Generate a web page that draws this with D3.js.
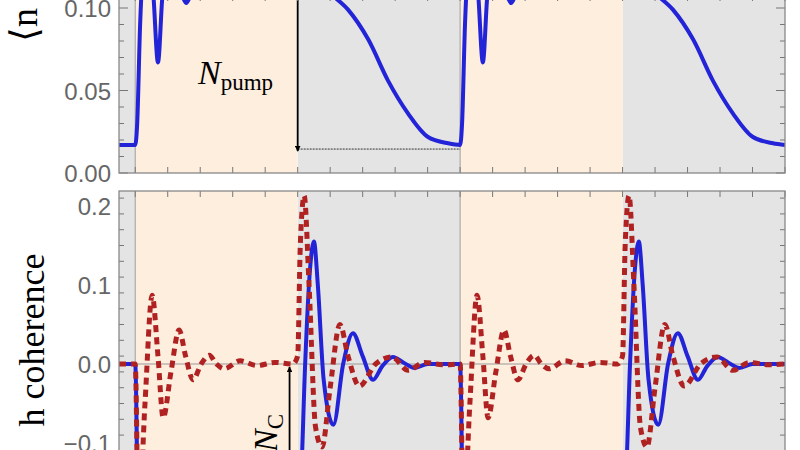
<!DOCTYPE html>
<html><head><meta charset="utf-8">
<script src="https://cdn.jsdelivr.net/npm/d3@7"></script>
<style>body{margin:0;background:#fff}</style>
</head><body>
<div id="chart"></div>
<script>
// time in pump-cycle units, two cycles
var pumpOn = [[0, 5], [10, 15]]
  , pumpOff = [[-0.5, 0], [5, 10], [15, 20]]
  , topTicks = [0, 0.05, 0.10]
  , botTicks = [-0.1, 0.0, 0.1, 0.2]
  // <n> (top panel), values above ~0.11 are off the picture
  , nPop = [[-0.5,0.017],[0,0.017],[0.06,0.03],[0.15,0.09],[0.25,0.125],[0.4,0.13],[0.55,0.11],[0.7,0.067],[0.85,0.11],[1.1,0.125],[1.4,0.11],[1.57,0.103],[1.75,0.11],[2.2,0.118],[3,0.12],[4,0.122],[5,0.123],[5.5,0.12],[6,0.109],[6.55,0.099],[7.17,0.081],[7.78,0.056],[8.4,0.036],[9.0,0.022],[9.63,0.018],[10,0.017],
            [10.06,0.03],[10.15,0.09],[10.25,0.125],[10.4,0.13],[10.55,0.11],[10.7,0.067],[10.85,0.11],[11.1,0.125],[11.4,0.11],[11.57,0.103],[11.75,0.11],[12.2,0.118],[13,0.12],[14,0.122],[15,0.123],[15.5,0.12],[16,0.109],[16.55,0.099],[17.17,0.081],[17.78,0.056],[18.4,0.036],[19.0,0.022],[19.63,0.018],[20,0.017]]
  // coherence, solid blue
  , cohBlue = [[-0.5,0],[0,0],[0.1,-0.2],[5,-0.2],[5.1,-0.15],[5.23,0],[5.38,0.12],[5.5,0.155],[5.62,0.1],[5.8,-0.02],[6.1,-0.077],[6.4,0],[6.7,0.039],[7.0,0.01],[7.32,-0.02],[7.6,-0.003],[7.93,0.009],[8.25,0.002],[8.6,-0.005],[9,0],[10,0],
               [10.1,-0.2],[15,-0.2],[15.1,-0.15],[15.23,0],[15.38,0.12],[15.5,0.155],[15.62,0.1],[15.8,-0.02],[16.1,-0.077],[16.4,0],[16.7,0.039],[17.0,0.01],[17.32,-0.02],[17.6,-0.003],[17.93,0.009],[18.25,0.002],[18.6,-0.005],[19,0],[20,0]]
  // coherence, dashed red
  , cohRed = [[-0.5,0],[0,0],[0.1,-0.2],[0.3,-0.05],[0.52,0.087],[0.7,0.01],[0.86,-0.068],[1.1,-0.01],[1.35,0.043],[1.55,0.01],[1.78,-0.02],[2.03,0],[2.28,0.011],[2.5,0],[2.74,-0.006],[3.23,0.004],[3.75,-0.002],[4.3,0.002],[4.85,0],[5.0,0.01],[5.08,0.15],[5.2,0.213],[5.35,0.1],[5.55,-0.08],[5.75,-0.105],[6.0,-0.03],[6.3,0.05],[6.55,0.01],[6.9,-0.028],[7.4,0],[7.9,0.009],[8.4,-0.008],[8.9,0.002],[9.5,-0.001],[10,0],
              [10.1,-0.2],[10.3,-0.05],[10.52,0.087],[10.7,0.01],[10.86,-0.068],[11.1,-0.01],[11.35,0.043],[11.55,0.01],[11.78,-0.02],[12.03,0],[12.28,0.011],[12.5,0],[12.74,-0.006],[13.23,0.004],[13.75,-0.002],[14.3,0.002],[14.85,0],[15.0,0.01],[15.08,0.15],[15.2,0.213],[15.35,0.1],[15.55,-0.08],[15.75,-0.105],[16.0,-0.03],[16.3,0.05],[16.55,0.01],[16.9,-0.028],[17.4,0],[17.9,0.009],[18.4,-0.008],[18.9,0.002],[19.5,-0.001],[20,0]]
  , nFloor = 0.0145
  ;

var svg = d3.select("#chart").append("svg").attr("width", 800).attr("height", 450)
  , x = d3.scaleLinear().domain([-0.5, 20]).range([119, 785])
  , yTop = d3.scaleLinear().domain([0, 0.12]).range([173, -25])
  , yBot = d3.scaleLinear().domain([-0.15, 0.219]).range([482.5, 191])
  , defs = svg.append("defs")
  ;

defs.append("clipPath").attr("id", "cTop").append("rect")
  .attr("x", 119).attr("y", -30).attr("width", 666).attr("height", 203);
defs.append("clipPath").attr("id", "cBot").append("rect")
  .attr("x", 119).attr("y", 191).attr("width", 666).attr("height", 300);
defs.append("marker").attr("id", "ah").attr("viewBox", "0 0 10 10")
  .attr("refX", 9).attr("refY", 5).attr("markerWidth", 3.2).attr("markerHeight", 3.2)
  .attr("orient", "auto").append("path").attr("d", "M0,0L10,5L0,10z").attr("fill", "#000");

function panel(y, top, bottom, clip, ticks, minor, fmt) {
  var g = svg.append("g");
  var bg = g.append("g").attr("clip-path", "url(#" + clip + ")");
  bg.selectAll("rect.off").data(pumpOff).enter().append("rect")
    .attr("x", function (d) { return x(d[0]); }).attr("width", function (d) { return x(d[1]) - x(d[0]); })
    .attr("y", top).attr("height", bottom - top).attr("fill", "#e4e4e4");
  bg.selectAll("rect.on").data(pumpOn).enter().append("rect")
    .attr("x", function (d) { return x(d[0]); }).attr("width", function (d) { return x(d[1]) - x(d[0]); })
    .attr("y", top).attr("height", bottom - top).attr("fill", "#fdeede");
  bg.selectAll("line.v").data([0, 10]).enter().append("line")
    .attr("x1", x).attr("x2", x).attr("y1", top).attr("y2", bottom)
    .attr("stroke", "#aaa").attr("stroke-width", 1.2);

  // ticks inward on all four sides
  var minorTicks = d3.range(y.domain()[0], y.domain()[1] + 1e-9, minor);
  var tk = g.append("g").attr("stroke", "#777").attr("stroke-width", 1);
  minorTicks.forEach(function (v) {
    var py = y(v); if (py < top || py > bottom) return;
    var big = ticks.some(function (t) { return Math.abs(t - v) < 1e-9; });
    var l = big ? 9 : 5;
    tk.append("line").attr("x1", 119).attr("x2", 119 + l).attr("y1", py).attr("y2", py);
    tk.append("line").attr("x1", 785).attr("x2", 785 - l).attr("y1", py).attr("y2", py);
  });
  d3.range(0, 21, 1).forEach(function (t) {
    tk.append("line").attr("x1", x(t)).attr("x2", x(t)).attr("y1", bottom).attr("y2", bottom - 6);
    tk.append("line").attr("x1", x(t)).attr("x2", x(t)).attr("y1", top).attr("y2", top + 6);
  });
  g.selectAll("text.tl").data(ticks).enter().append("text")
    .attr("x", 111).attr("y", function (d) { return y(d) + 9; })
    .attr("text-anchor", "end").attr("fill", "#666")
    .attr("font-family", "Liberation Sans, sans-serif").attr("font-size", 24)
    .text(fmt);
  g.append("rect").attr("x", 119).attr("y", top).attr("width", 666).attr("height", bottom - top)
    .attr("fill", "none").attr("stroke", "#888").attr("stroke-width", 1.3);
  return bg;
}

var fmtBot = function (d) { return (d < 0 ? "\u2212" : "") + Math.abs(d).toFixed(1); };
var gt = panel(yTop, -5, 173, "cTop", topTicks, 0.01, function (d) { return d.toFixed(2); });
var gb = panel(yBot, 191, 500, "cBot", botTicks, 0.02, fmtBot);

gb.append("line").attr("x1", 119).attr("x2", 785).attr("y1", yBot(0)).attr("y2", yBot(0))
  .attr("stroke", "#999").attr("stroke-width", 1);

var lineT = d3.line().x(function (d) { return x(d[0]); }).y(function (d) { return yTop(d[1]); }).curve(d3.curveMonotoneX);
var lineB = d3.line().x(function (d) { return x(d[0]); }).y(function (d) { return yBot(d[1]); }).curve(d3.curveMonotoneX);

gt.append("line").attr("x1", x(5)).attr("x2", x(10)).attr("y1", yTop(nFloor)).attr("y2", yTop(nFloor))
  .attr("stroke", "#333").attr("stroke-width", 1).attr("stroke-dasharray", "2,1");
gt.append("path").datum(nPop).attr("d", lineT).attr("fill", "none").attr("stroke", "#2323d8").attr("stroke-width", 4);
gt.append("line").attr("x1", x(5)).attr("x2", x(5)).attr("y1", -5).attr("y2", yTop(nFloor) + 2)
  .attr("stroke", "#000").attr("stroke-width", 1.8).attr("marker-end", "url(#ah)");

gb.append("path").datum(cohBlue).attr("d", lineB).attr("fill", "none").attr("stroke", "#2323d8").attr("stroke-width", 4);
gb.append("path").datum(cohRed).attr("d", lineB).attr("fill", "none").attr("stroke", "#b02222")
  .attr("stroke-width", 5).attr("stroke-dasharray", "7,5");
gb.append("line").attr("x1", x(4.75)).attr("x2", x(4.75)).attr("y1", 460).attr("y2", yBot(0) + 3)
  .attr("stroke", "#000").attr("stroke-width", 1.8).attr("marker-end", "url(#ah)");

var np = svg.append("text").attr("x", 198).attr("y", 84).attr("font-family", "Liberation Serif, serif").attr("font-size", 34);
np.append("tspan").attr("font-style", "italic").text("N");
np.append("tspan").attr("font-size", 23).attr("dy", 6).text("pump");
var nc = svg.append("text").attr("transform", "translate(277,452) rotate(-90)").attr("font-family", "Liberation Serif, serif").attr("font-size", 34);
nc.append("tspan").attr("font-style", "italic").text("N");
nc.append("tspan").attr("font-size", 23).attr("dy", 6).text("C");

svg.append("text").attr("transform", "translate(37,25) rotate(-90)").attr("font-family", "Liberation Serif, serif")
  .attr("font-size", 38).attr("text-anchor", "middle").text("\u27E8n");
svg.append("text").attr("transform", "translate(44,340) rotate(-90)").attr("font-family", "Liberation Serif, serif")
  .attr("font-size", 36).attr("text-anchor", "middle").text("h coherence");
</script>
</body></html>
